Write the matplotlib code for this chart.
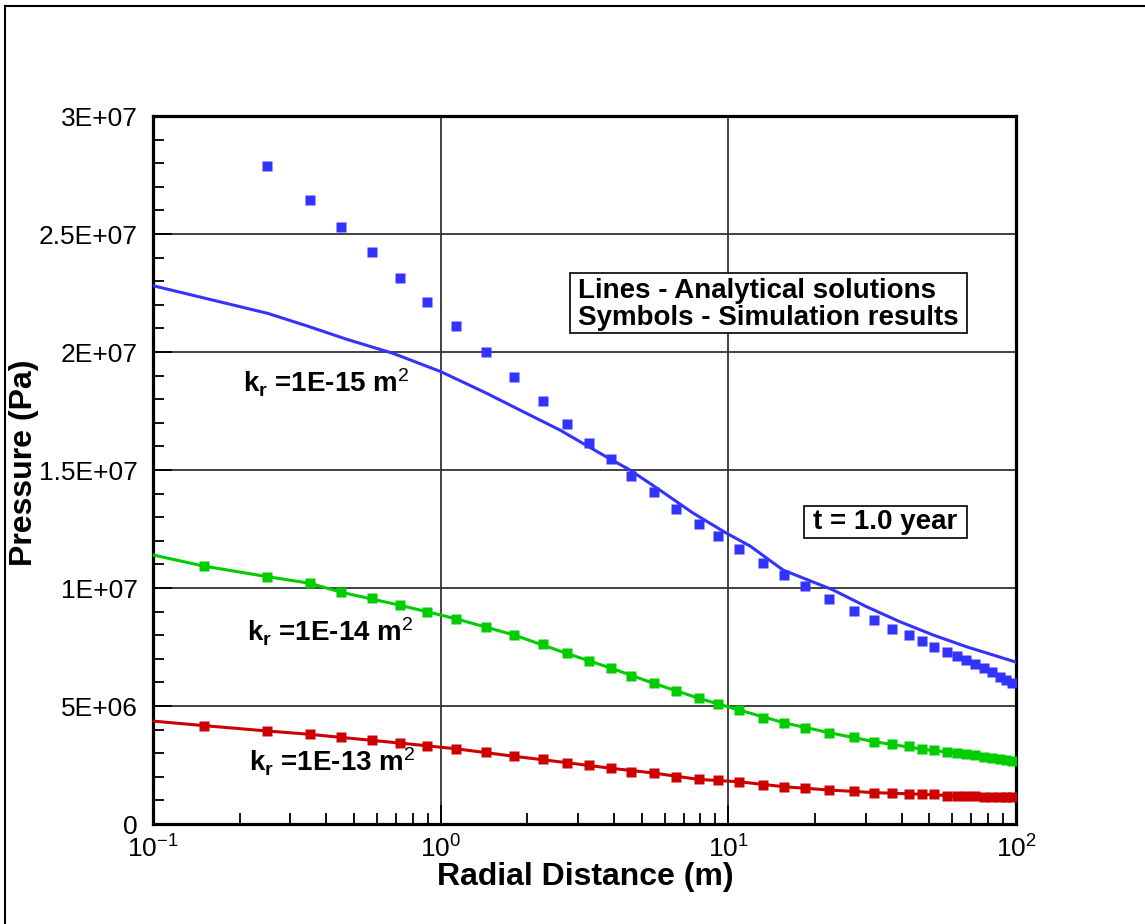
import numpy as np
import matplotlib
matplotlib.use('Agg')
import matplotlib.pyplot as plt
from matplotlib.lines import Line2D
from matplotlib.patches import Rectangle
from matplotlib.ticker import MultipleLocator, LogLocator, FixedLocator, FixedFormatter

plt.rcParams['font.family'] = ['Liberation Sans', 'DejaVu Sans']
plt.rcParams['mathtext.fontset'] = 'custom'
plt.rcParams['mathtext.rm'] = 'Liberation Sans'
plt.rcParams['mathtext.it'] = 'Liberation Sans'
plt.rcParams['mathtext.bf'] = 'Liberation Sans:bold'

# simulation points (radial distance, m)
x_sim = [0.15, 0.25, 0.351, 0.451, 0.575, 0.722, 0.894, 1.127, 1.433, 1.798,
         2.262, 2.74, 3.28, 3.92, 4.58, 5.50, 6.58, 7.88, 9.23, 10.9,
         13.2, 15.6, 18.5, 22.4, 27.4, 32.1, 37.0, 42.4, 47.2, 52.0,
         57.4, 62.2, 66.8, 72.0, 77.1, 82.6, 87.9, 92.2, 97.0]

# pressure in MPa (x1e6 Pa)
sim_15 = [27.89, 26.44, 25.28, 24.22, 23.14, 22.12, 21.10, 20.01, 18.94,
          17.94, 16.96, 16.13, 15.45, 14.76, 14.06, 13.35, 12.71, 12.19, 11.64,
          11.05, 10.55, 10.10, 9.53, 9.03, 8.64, 8.26, 8.00, 7.77, 7.50,
          7.30, 7.12, 6.95, 6.77, 6.60, 6.43, 6.23, 6.09, 5.96]   # starts at x=0.25
sim_14 = [10.93, 10.48, 10.20, 9.82, 9.59, 9.27, 9.00, 8.70, 8.33, 8.01,
          7.63, 7.23, 6.92, 6.60, 6.27, 5.96, 5.64, 5.33, 5.07, 4.83,
          4.48, 4.29, 4.06, 3.87, 3.70, 3.49, 3.39, 3.31, 3.17, 3.12,
          3.06, 3.01, 2.96, 2.91, 2.86, 2.81, 2.76, 2.71, 2.66]
sim_13 = [4.17, 3.94, 3.80, 3.67, 3.56, 3.43, 3.30, 3.19, 3.06, 2.87,
          2.74, 2.60, 2.50, 2.36, 2.22, 2.16, 2.00, 1.89, 1.86, 1.79,
          1.65, 1.58, 1.51, 1.44, 1.40, 1.33, 1.33, 1.26, 1.26, 1.26,
          1.19, 1.18, 1.17, 1.17, 1.16, 1.16, 1.15, 1.15, 1.14]

# analytical solutions
x_ana15 = [0.1, 0.25, 0.342, 0.471, 0.684, 1.0, 1.445, 1.886, 2.60, 3.58,
           4.55, 5.78, 7.55, 9.86, 11.9, 15.5, 23.1, 30.2, 39.5, 51.5, 67.3, 100]
ana_15 = [22.81, 21.64, 21.11, 20.54, 19.94, 19.17, 18.25, 17.54, 16.69, 15.71,
          15.00, 14.15, 13.17, 12.32, 11.78, 10.76, 9.92, 9.21, 8.57, 8.01, 7.51, 6.86]
x_ana = [0.1, 0.15, 0.25, 0.351, 0.451, 0.722, 1.127, 1.798, 2.74, 3.92,
         5.50, 7.88, 10.9, 15.6, 22.4, 32.1, 47.2, 66.8, 100]
ana_14 = [11.40, 10.93, 10.48, 10.20, 9.82, 9.27, 8.70, 8.01, 7.23, 6.60,
          5.96, 5.33, 4.83, 4.29, 3.87, 3.49, 3.17, 2.96, 2.58]
ana_13 = [4.36, 4.17, 3.94, 3.80, 3.67, 3.43, 3.19, 2.87, 2.60, 2.36,
          2.16, 1.89, 1.79, 1.58, 1.44, 1.33, 1.26, 1.17, 1.14]

y_ticks = [0, 5e6, 1e7, 1.5e7, 2e7, 2.5e7, 3e7]
y_tick_labels = ['0', '5E+06', '1E+07', '1.5E+07', '2E+07', '2.5E+07', '3E+07']

blue = '#3333ff'
green = '#00cc00'
red = '#cc0000'

W, H = 1145, 924
fig = plt.figure(figsize=(W / 100, H / 100), dpi=100)
ax = fig.add_axes([153/W, 1 - 824/H, 863/W, 708/H])

def mpa(v):
    return np.array(v) * 1e6

ax.plot(x_ana15, mpa(ana_15), color=blue, lw=2.2, zorder=3)
ax.plot(x_ana, mpa(ana_14), color=green, lw=2.2, zorder=3)
ax.plot(x_ana, mpa(ana_13), color=red, lw=2.2, zorder=3)

ms = 7
ax.plot(x_sim[1:], mpa(sim_15), 's', color=blue, ms=ms, mec='none', zorder=4)
ax.plot(x_sim, mpa(sim_14), 's', color=green, ms=ms, mec='none', zorder=4)
ax.plot(x_sim, mpa(sim_13), 's', color=red, ms=ms, mec='none', zorder=4)

ax.set_xscale('log')
ax.set_xlim(0.1, 100)
ax.set_ylim(0, 3e7)

ax.yaxis.set_major_locator(FixedLocator(y_ticks))
ax.yaxis.set_major_formatter(FixedFormatter(y_tick_labels))
ax.yaxis.set_minor_locator(MultipleLocator(1e6))
ax.xaxis.set_major_locator(LogLocator(base=10))
ax.xaxis.set_minor_locator(LogLocator(base=10, subs=np.arange(2, 10)))

ax.grid(True, which='major', color='#333333', lw=1.3, zorder=1)
ax.tick_params(which='both', direction='in', top=False, right=False, width=1.3, labelsize=19)
ax.tick_params(which='major', length=14)
ax.tick_params(which='minor', length=8)
ax.tick_params(axis='y', pad=11)
ax.tick_params(axis='x', pad=8)
for s in ax.spines.values():
    s.set_linewidth(2.3)

ax.set_xlabel('Radial Distance (m)', fontsize=23, fontweight='bold')
ax.set_ylabel('Pressure (Pa)', fontsize=23, fontweight='bold')
ax.xaxis.set_label_coords((585 - 153) / 863, (824 - 862) / 708)
ax.yaxis.set_label_coords((39 - 153) / 863, (824 - 463) / 708)

kw = dict(fontsize=20, fontweight='bold', ha='center', va='center')
fig.text(326/W, 1 - 383/H, r'$\mathbf{k_r}$ =1E-15 m$^{2}$', **kw)
fig.text(330/W, 1 - 632/H, r'$\mathbf{k_r}$ =1E-14 m$^{2}$', **kw)
fig.text(332/W, 1 - 762/H, r'$\mathbf{k_r}$ =1E-13 m$^{2}$', **kw)

# note boxes
fig.add_artist(Rectangle((570/W, 1 - 333/H), (967 - 570)/W, (333 - 273)/H,
                         fc='white', ec='black', lw=1.2, transform=fig.transFigure, zorder=5))
fig.text(578/W, 1 - 291/H, 'Lines - Analytical solutions', fontsize=20, fontweight='bold',
         ha='left', va='center', zorder=6)
fig.text(578/W, 1 - 318/H, 'Symbols - Simulation results', fontsize=20, fontweight='bold',
         ha='left', va='center', zorder=6)
fig.add_artist(Rectangle((804/W, 1 - 538/H), (967 - 804)/W, (538 - 506)/H,
                         fc='white', ec='black', lw=1.2, transform=fig.transFigure, zorder=5))
fig.text(885/W, 1 - 522/H, 't = 1.0 year', fontsize=20, fontweight='bold',
         ha='center', va='center', zorder=6)

# outer frame
fig.add_artist(Line2D([5/W, 5/W], [0, 1 - 6/H], color='black', lw=1.5, transform=fig.transFigure))
fig.add_artist(Line2D([5/W, 1], [1 - 6/H, 1 - 6/H], color='black', lw=1.5, transform=fig.transFigure))

fig.savefig('out.png', dpi=100)
